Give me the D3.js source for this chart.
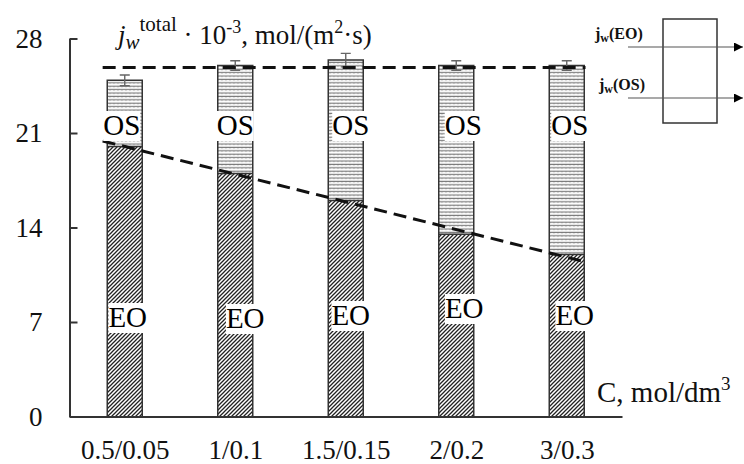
<!DOCTYPE html>
<html>
<head>
<meta charset="utf-8">
<script src="https://cdn.jsdelivr.net/npm/d3@7"></script>
<style>
  body { margin: 0; background: #fff; }
  svg { display: block; }
</style>
</head>
<body>
<svg width="744" height="464"></svg>
<script>
// data
const categories = ["0.5/0.05", "1/0.1", "1.5/0.15", "2/0.2", "3/0.3"];
const eoValues = [20.0, 18.0, 16.0, 13.5, 12.0];      // electro-osmotic part
const totalValues = [24.9, 26.0, 26.4, 26.0, 26.0];   // total water flux
const totalErrors = [0.4, 0.35, 0.5, 0.35, 0.35];
const yTicks = [0, 7, 14, 21, 28];

const serif = "'Liberation Serif', 'Times New Roman', serif";
const svg = d3.select("svg");

// scales
const x = d3.scalePoint()
    .domain(categories)
    .range([69.5, 622])
    .padding(0.5);

const y = d3.scaleLinear()
    .domain([0, 28])
    .range([416.5, 38.5]);

const barW = 35;

// hatch patterns
const defs = svg.append("defs");
defs.append("pattern")
    .attr("id", "eo")
    .attr("patternUnits", "userSpaceOnUse")
    .attr("width", 4).attr("height", 4)
    .append("path")
    .attr("d", "M-1,1 L1,-1 M0,4 L4,0 M3,5 L5,3")
    .attr("stroke", "#222")
    .attr("stroke-width", 1.3);

const osPat = defs.append("pattern")
    .attr("id", "os")
    .attr("patternUnits", "userSpaceOnUse")
    .attr("width", 4).attr("height", 3.4);
osPat.append("rect").attr("width", 4).attr("height", 3.4).attr("fill", "#fff");
osPat.append("path")
    .attr("d", "M0,1.6 L1,0.8 L2,1.6 L3,0.8 L4,1.6")
    .attr("fill", "none")
    .attr("stroke", "#777")
    .attr("stroke-width", 1);

const bars = categories.map((c, i) => ({
    cat: c, eo: eoValues[i], total: totalValues[i], err: totalErrors[i]
}));

// OS part on top
svg.append("g").selectAll("rect")
    .data(bars)
    .join("rect")
    .attr("x", d => x(d.cat) - barW / 2)
    .attr("y", d => y(d.total))
    .attr("width", barW)
    .attr("height", d => y(d.eo) - y(d.total))
    .attr("fill", "url(#os)");

// EO part
svg.append("g").selectAll("rect")
    .data(bars)
    .join("rect")
    .attr("x", d => x(d.cat) - barW / 2)
    .attr("y", d => y(d.eo))
    .attr("width", barW)
    .attr("height", d => y(0) - y(d.eo))
    .attr("fill", "url(#eo)");

// bar outlines (sides, top and the EO/OS border)
const outline = svg.append("g").attr("stroke", "#333").attr("stroke-width", 1.5).attr("fill", "none");
outline.selectAll("path")
    .data(bars)
    .join("path")
    .attr("d", d => {
        const l = x(d.cat) - barW / 2, r = l + barW;
        return `M${l},${y(0)}V${y(d.total)}H${r}V${y(0)}M${l},${y(d.eo)}H${r}`;
    });

// error bars
const err = svg.append("g").attr("stroke", "#666").attr("stroke-width", 1.4);
err.selectAll("path")
    .data(bars)
    .join("path")
    .attr("d", d => {
        const cx = x(d.cat), t = y(d.total + d.err), b = y(d.total - d.err);
        return `M${cx},${t}V${b}M${cx - 5},${t}H${cx + 5}M${cx - 5},${b}H${cx + 5}`;
    });

// dashed trend lines: mean of totals and linear fit of EO
const idx = d3.range(categories.length);
const mi = d3.mean(idx), me = d3.mean(eoValues);
const slope = d3.sum(idx, i => (i - mi) * (eoValues[i] - me)) / d3.sum(idx, i => (i - mi) ** 2);
const step = x.step();
const xi = i => x(categories[0]) + i * step;
const i0 = -0.2, i1 = 4.17;
const totalMean = d3.mean(totalValues);

const line = d3.line().x(d => xi(d[0])).y(d => y(d[1]));
svg.append("path")
    .attr("d", line([[i0, totalMean], [i1, totalMean]]))
    .attr("stroke", "#111").attr("stroke-width", 3).attr("stroke-dasharray", "13,7").attr("fill", "none");
svg.append("path")
    .attr("d", line([[i0, me + slope * (i0 - mi)], [i1, me + slope * (i1 - mi)]]))
    .attr("stroke", "#111").attr("stroke-width", 3).attr("stroke-dasharray", "13,7").attr("fill", "none");

// OS / EO labels on white boxes
const osDx = [-3, 0, 5, 7, 3];
const eoDx = [3, 10, 5, 8, 8];
const eoDy = [0, 1, -2, -9, -2];
const labels = svg.append("g")
    .attr("font-family", serif)
    .attr("font-size", 29)
    .attr("text-anchor", "middle");

function boxedText(tx, ty, str) {
    const g = labels.append("g");
    const t = g.append("text").attr("x", tx).attr("y", ty).text(str);
    const bb = t.node().getBBox();
    g.insert("rect", "text")
        .attr("x", bb.x).attr("y", bb.y + 2)
        .attr("width", bb.width).attr("height", bb.height - 2)
        .attr("fill", "#fff");
}
bars.forEach((d, i) => {
    boxedText(x(d.cat) + osDx[i], y(21) + 2, "OS");
    boxedText(x(d.cat) + eoDx[i], y(7) + 5 + eoDy[i], "EO");
});

// axes
const yAxis = svg.append("g")
    .attr("transform", "translate(69.5,0)")
    .call(d3.axisLeft(y).tickValues(yTicks).tickSize(-8).tickSizeOuter(0).tickPadding(27));
yAxis.select(".domain").attr("stroke", "#333").attr("stroke-width", 2);
yAxis.selectAll(".tick line").attr("stroke", "#333").attr("stroke-width", 2);
yAxis.selectAll("text").attr("font-family", serif).attr("font-size", 27).attr("fill", "#111");

const xAxis = svg.append("g")
    .attr("transform", `translate(0,${y(0)})`)
    .call(d3.axisBottom(x).tickSize(0).tickPadding(23));
xAxis.select(".domain").attr("stroke", "#333").attr("stroke-width", 2);
xAxis.selectAll("text").attr("font-family", serif).attr("font-size", 27).attr("fill", "#111");

// axis titles
const title = svg.append("text")
    .attr("x", 118).attr("y", 44)
    .attr("font-family", serif).attr("font-size", 27).attr("fill", "#111");
title.append("tspan").attr("font-style", "italic").text("j");
title.append("tspan").attr("font-style", "italic").attr("font-size", 21).attr("dy", 5).text("w");
title.append("tspan").attr("font-size", 21).attr("dy", -18).text("total");
title.append("tspan").attr("dy", 13).text(" · 10");
title.append("tspan").attr("font-size", 18).attr("dy", -11).text("-3");
title.append("tspan").attr("dy", 11).text(", mol/(m");
title.append("tspan").attr("font-size", 18).attr("dy", -11).text("2");
title.append("tspan").attr("dy", 11).text("·s)");

const cLab = svg.append("text")
    .attr("x", 597).attr("y", 402)
    .attr("font-family", serif).attr("font-size", 29).attr("fill", "#111");
cLab.append("tspan").text("C, mol/dm");
cLab.append("tspan").attr("font-size", 19).attr("dy", -12).text("3");

// inset scheme
const scheme = svg.append("g");
scheme.append("rect")
    .attr("x", 663).attr("y", 19).attr("width", 54).attr("height", 104)
    .attr("fill", "none").attr("stroke", "#333").attr("stroke-width", 1.5);
defs.append("marker")
    .attr("id", "arr").attr("viewBox", "0 0 10 10")
    .attr("refX", 10).attr("refY", 5)
    .attr("markerWidth", 9).attr("markerHeight", 9).attr("markerUnits", "userSpaceOnUse")
    .attr("orient", "auto")
    .append("path").attr("d", "M0,0L10,5L0,10z").attr("fill", "#000");
const flows = [["EO", 47, 595, 39], ["OS", 98, 599, 90]];
flows.forEach(([name, ly, lx, ty]) => {
    scheme.append("line")
        .attr("x1", 628).attr("x2", 743).attr("y1", ly).attr("y2", ly)
        .attr("stroke", "#555").attr("stroke-width", 1.2)
        .attr("marker-end", "url(#arr)");
    const t = scheme.append("text")
        .attr("x", lx).attr("y", ty)
        .attr("font-family", serif).attr("font-weight", "bold").attr("font-size", 16).attr("fill", "#111");
    t.append("tspan").text("j");
    t.append("tspan").attr("font-size", 12).attr("dy", 3).text("w");
    t.append("tspan").attr("dy", -3).text(`(${name})`);
});
</script>
</body>
</html>
